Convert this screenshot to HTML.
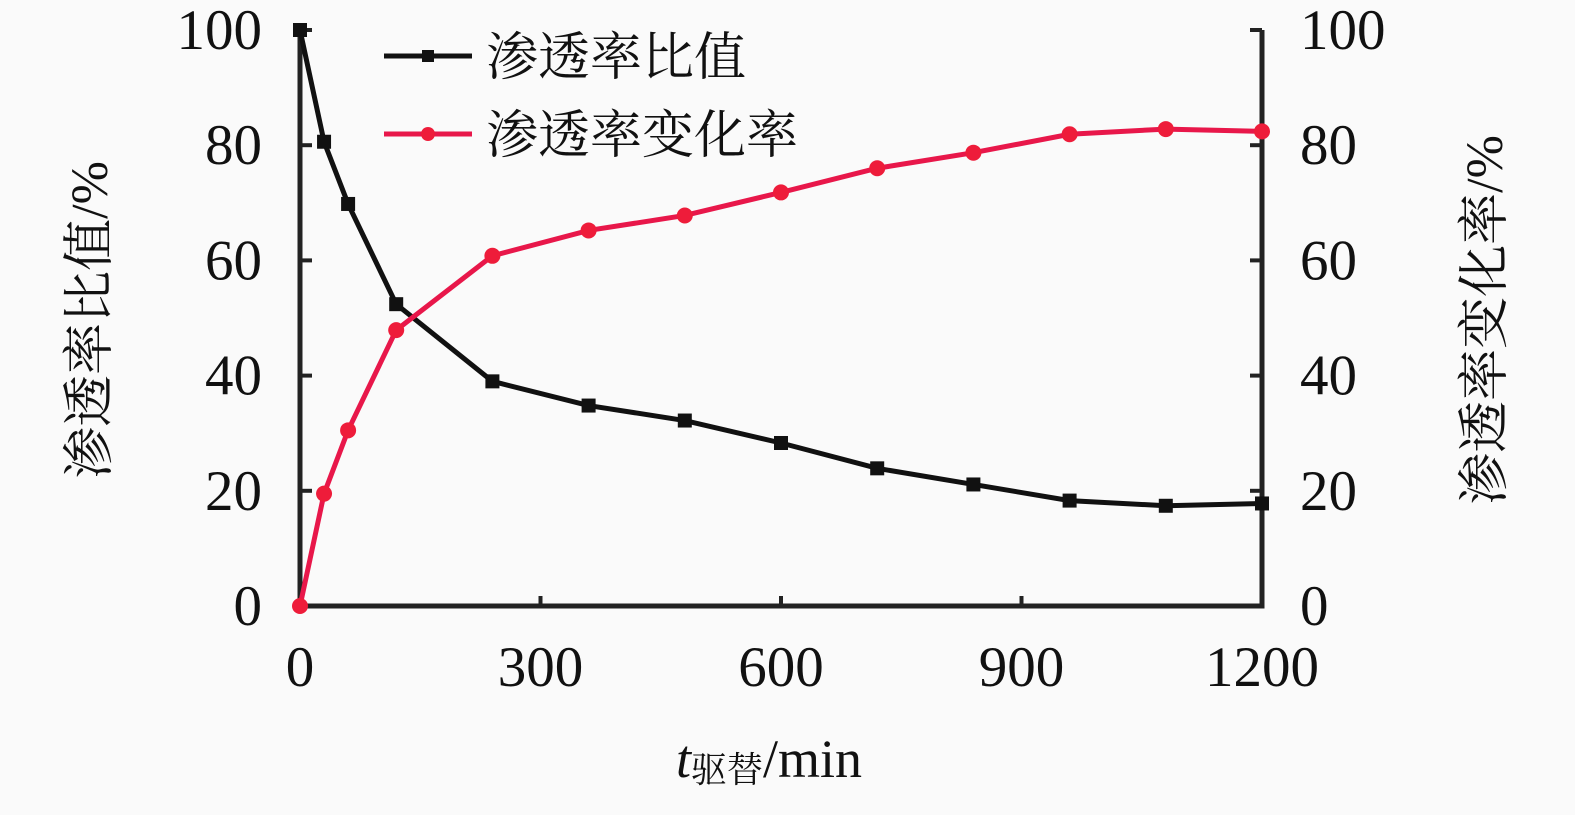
<!DOCTYPE html>
<html><head><meta charset="utf-8"><style>
body{margin:0;background:#fafafa}
svg text{font-family:"Liberation Serif","Noto Serif CJK SC",serif;fill:#111}
</style></head><body>
<svg id="chart" width="1575" height="810" viewBox="0 0 1575 810" xmlns="http://www.w3.org/2000/svg">
<rect width="1575" height="810" fill="#fafafa"/>
<g id="axes"></g>
<g id="series"></g>
<g>
<g>
<line x1="384" y1="56" x2="472" y2="56" stroke="#111" stroke-width="5"/>
<rect x="422" y="50" width="12" height="12" fill="#111"/>
<text x="486" y="75" font-size="52">渗透率比值</text></g>
<g>
<line x1="384" y1="134" x2="472" y2="134" stroke="#e8174a" stroke-width="5"/>
<circle cx="428" cy="134" r="7" fill="#ee1c3a"/>
<text x="486" y="153" font-size="52">渗透率变化率</text></g>
</g>
<text x="676" y="777" font-size="54"><tspan font-style="italic">t</tspan><tspan font-size="36" dy="5">驱替</tspan><tspan dy="-5">/min</tspan></text>
<text transform="translate(107,320) rotate(-90)" text-anchor="middle" font-size="52">渗透率比值/%</text>
<text transform="translate(1502,320) rotate(-90)" text-anchor="middle" font-size="52">渗透率变化率/%</text>
</svg>
<script>
const xValues=[0,30,60,120,240,360,480,600,720,840,960,1080,1200];
const ratioValues=[100,80.6,69.8,52.4,39,34.8,32.2,28.3,23.9,21.1,18.3,17.4,17.8];
const changeValues=[0,19.5,30.5,47.9,60.8,65.2,67.8,71.8,76,78.7,81.9,82.8,82.4];
const xTicks=[0,300,600,900,1200];
const yTicks=[0,20,40,60,80,100];
const NS="http://www.w3.org/2000/svg";
const X0=300,X1=1262,Y0=606,Y1=30;
const sx=v=>X0+(v/1200)*(X1-X0);
const sy=v=>Y0-(v/100)*(Y0-Y1);
function mk(tag,attrs,parent){const e=document.createElementNS(NS,tag);for(const k in attrs)e.setAttribute(k,attrs[k]);parent.appendChild(e);return e;}
const axes=document.getElementById('axes'),series=document.getElementById('series');
let e=mk('path',{d:`M${X0},${Y1}V${Y0}H${X1}V${Y1}`,fill:'none',stroke:'#222','stroke-width':5},axes);


xTicks.forEach(t=>{
 let l=mk('line',{x1:sx(t),x2:sx(t),y1:Y0,y2:Y0-10,stroke:'#222','stroke-width':4},axes);
 
 
 let tx=mk('text',{x:sx(t),y:686,'text-anchor':'middle','font-size':57},axes);tx.textContent=t;
 
 
});
yTicks.forEach(t=>{
 let l=mk('line',{x1:X0,x2:X0+12,y1:sy(t),y2:sy(t),stroke:'#222','stroke-width':4},axes);
 
 
 let r=mk('line',{x1:X1,x2:X1-12,y1:sy(t),y2:sy(t),stroke:'#222','stroke-width':4},axes);
 
 
 let a=mk('text',{x:262,y:sy(t)+19,'text-anchor':'end','font-size':57},axes);a.textContent=t;
 
 
 let b=mk('text',{x:1300,y:sy(t)+19,'text-anchor':'start','font-size':57},axes);b.textContent=t;
 
 
});
let p1=mk('polyline',{points:xValues.map((x,i)=>sx(x)+','+sy(ratioValues[i])).join(' '),fill:'none',stroke:'#111','stroke-width':5},series);


let p2=mk('polyline',{points:xValues.map((x,i)=>sx(x)+','+sy(changeValues[i])).join(' '),fill:'none',stroke:'#e8174a','stroke-width':5},series);


xValues.forEach((x,i)=>{
 let m=mk('rect',{x:sx(x)-7,y:sy(ratioValues[i])-7,width:14,height:14,fill:'#111'},series);
 
 
 let c=mk('circle',{cx:sx(x),cy:sy(changeValues[i]),r:8,fill:'#ee1c3a'},series);
 
 
});
</script>
</body></html>
